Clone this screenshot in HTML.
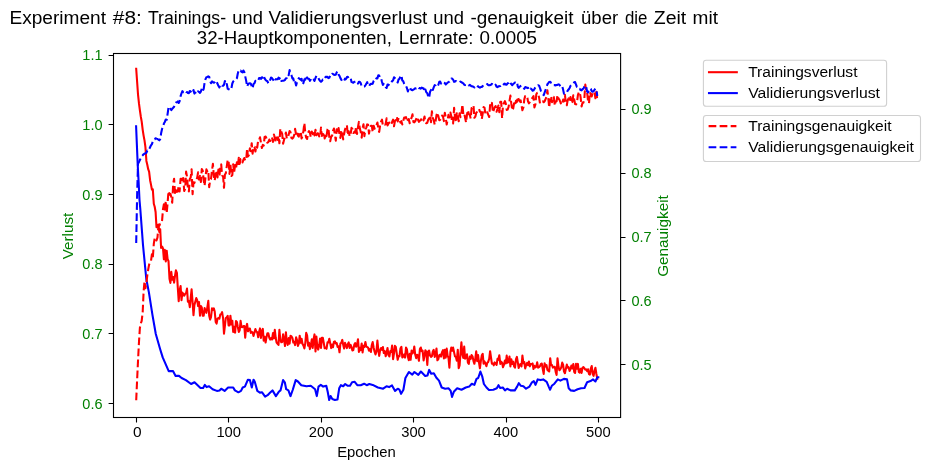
<!DOCTYPE html>
<html><head><meta charset="utf-8"><title>Experiment #8</title>
<style>html,body{margin:0;padding:0;background:#fff}body{width:930px;height:470px;overflow:hidden;font-family:"Liberation Sans",sans-serif}</style>
</head><body>
<svg width="930" height="470" viewBox="0 0 930 470" style="display:block">
<rect width="930" height="470" fill="#fff"/>
<defs><clipPath id="c"><rect x="113.5" y="53.5" width="507.1" height="364.0"/></clipPath></defs>
<g clip-path="url(#c)" fill="none" stroke-width="2.08" stroke-linejoin="round">
<path d="M136.2,68.8 L137.1,81.5 L138.0,94.3 L139.0,103.7 L139.9,110.3 L140.8,116.5 L141.7,121.6 L142.7,129.8 L143.6,135.6 L144.5,140.4 L145.4,146.9 L146.4,160.9 L147.3,164.8 L148.2,169.2 L149.1,171.7 L150.1,180.2 L151.0,184.6 L151.9,189.5 L152.8,189.2 L153.8,203.7 L154.7,206.8 L155.6,212.0 L156.5,227.3 L157.5,225.5 L158.4,224.6 L159.3,231.9 L160.2,229.2 L161.1,248.0 L162.1,246.5 L163.0,248.5 L163.9,259.3 L164.8,249.9 L165.8,261.4 L166.7,250.7 L167.6,259.2 L168.5,261.0 L169.5,278.7 L170.4,282.9 L171.3,271.9 L172.2,279.8 L173.2,277.0 L174.1,282.7 L175.0,275.8 L175.9,270.4 L176.9,272.9 L177.8,287.8 L178.7,301.2 L179.6,290.5 L180.6,286.1 L181.5,300.1 L182.4,292.6 L183.3,294.2 L184.2,295.7 L185.2,293.8 L186.1,293.1 L187.0,288.6 L187.9,301.8 L188.9,301.0 L189.8,307.2 L190.7,298.1 L191.6,289.3 L192.6,302.6 L193.5,315.2 L194.4,305.0 L195.3,301.7 L196.3,298.1 L197.2,300.1 L198.1,306.0 L199.0,302.0 L200.0,315.6 L200.9,306.0 L201.8,307.5 L202.7,315.6 L203.7,315.7 L204.6,308.0 L205.5,310.6 L206.4,312.8 L207.3,307.6 L208.3,300.9 L209.2,315.8 L210.1,319.6 L211.0,317.2 L212.0,308.3 L212.9,309.9 L213.8,308.3 L214.7,311.5 L215.7,321.9 L216.6,323.6 L217.5,318.7 L218.4,318.1 L219.4,318.7 L220.3,314.4 L221.2,314.2 L222.1,312.2 L223.1,318.3 L224.0,333.6 L224.9,326.0 L225.8,318.0 L226.8,317.3 L227.7,315.9 L228.6,325.5 L229.5,325.5 L230.4,315.7 L231.4,324.5 L232.3,320.7 L233.2,332.0 L234.1,326.8 L235.1,332.6 L236.0,321.0 L236.9,321.9 L237.8,327.0 L238.8,331.9 L239.7,330.2 L240.6,320.8 L241.5,326.9 L242.5,327.2 L243.4,326.0 L244.3,326.0 L245.2,337.7 L246.2,327.0 L247.1,323.9 L248.0,331.3 L248.9,328.8 L249.9,328.5 L250.8,332.9 L251.7,331.9 L252.6,332.4 L253.5,336.0 L254.5,332.5 L255.4,329.0 L256.3,331.7 L257.2,332.2 L258.2,337.2 L259.1,332.1 L260.0,328.4 L260.9,337.9 L261.9,330.9 L262.8,328.9 L263.7,340.6 L264.6,336.7 L265.6,342.5 L266.5,337.2 L267.4,333.3 L268.3,333.3 L269.3,337.8 L270.2,339.6 L271.1,338.0 L272.0,339.5 L273.0,333.1 L273.9,338.4 L274.8,329.9 L275.7,337.8 L276.6,342.6 L277.6,343.8 L278.5,344.9 L279.4,329.9 L280.3,339.5 L281.3,342.3 L282.2,342.0 L283.1,334.2 L284.0,339.2 L285.0,346.0 L285.9,332.2 L286.8,341.6 L287.7,344.9 L288.7,338.1 L289.6,343.6 L290.5,335.9 L291.4,336.3 L292.4,338.0 L293.3,342.5 L294.2,341.9 L295.1,345.1 L296.1,337.3 L297.0,340.1 L297.9,345.9 L298.8,343.6 L299.7,335.7 L300.7,342.8 L301.6,338.7 L302.5,343.9 L303.4,345.4 L304.4,348.4 L305.3,343.1 L306.2,332.9 L307.1,335.3 L308.1,345.6 L309.0,342.8 L309.9,349.1 L310.8,345.3 L311.8,339.4 L312.7,347.9 L313.6,339.1 L314.5,334.4 L315.5,351.5 L316.4,336.5 L317.3,347.0 L318.2,349.6 L319.2,345.1 L320.1,338.5 L321.0,348.0 L321.9,337.9 L322.8,337.8 L323.8,343.2 L324.7,348.2 L325.6,347.7 L326.5,348.8 L327.5,342.3 L328.4,342.5 L329.3,338.8 L330.2,343.1 L331.2,348.1 L332.1,344.6 L333.0,347.3 L333.9,341.9 L334.9,341.3 L335.8,343.5 L336.7,343.0 L337.6,346.9 L338.6,346.3 L339.5,352.3 L340.4,343.6 L341.3,342.8 L342.3,339.9 L343.2,344.7 L344.1,348.6 L345.0,342.9 L345.9,345.2 L346.9,348.1 L347.8,344.2 L348.7,342.4 L349.6,347.9 L350.6,344.8 L351.5,346.9 L352.4,350.5 L353.3,350.1 L354.3,344.6 L355.2,343.1 L356.1,346.8 L357.0,345.0 L358.0,339.3 L358.9,351.9 L359.8,347.9 L360.7,350.1 L361.7,343.5 L362.6,352.4 L363.5,345.9 L364.4,347.0 L365.4,342.0 L366.3,346.6 L367.2,347.0 L368.1,347.6 L369.0,350.7 L370.0,349.1 L370.9,352.0 L371.8,345.0 L372.7,342.1 L373.7,347.9 L374.6,351.7 L375.5,354.5 L376.4,351.6 L377.4,340.6 L378.3,349.8 L379.2,355.9 L380.1,350.4 L381.1,348.0 L382.0,349.8 L382.9,347.1 L383.8,353.0 L384.8,351.1 L385.7,356.3 L386.6,352.9 L387.5,348.0 L388.5,355.2 L389.4,356.5 L390.3,351.1 L391.2,351.8 L392.1,345.6 L393.1,359.1 L394.0,353.3 L394.9,345.8 L395.8,346.9 L396.8,354.0 L397.7,359.8 L398.6,356.0 L399.5,356.1 L400.5,348.2 L401.4,346.8 L402.3,357.4 L403.2,356.6 L404.2,354.4 L405.1,357.6 L406.0,347.6 L406.9,349.2 L407.9,356.8 L408.8,360.2 L409.7,353.8 L410.6,359.8 L411.6,350.5 L412.5,353.5 L413.4,352.1 L414.3,346.5 L415.2,354.6 L416.2,358.3 L417.1,354.8 L418.0,355.6 L418.9,360.8 L419.9,349.1 L420.8,347.5 L421.7,351.3 L422.6,350.6 L423.6,360.5 L424.5,356.1 L425.4,350.2 L426.3,351.7 L427.3,364.9 L428.2,351.5 L429.1,350.5 L430.0,355.5 L431.0,356.9 L431.9,356.2 L432.8,351.5 L433.7,349.8 L434.7,356.9 L435.6,354.6 L436.5,348.5 L437.4,360.3 L438.3,359.2 L439.3,355.1 L440.2,354.6 L441.1,356.6 L442.0,352.1 L443.0,350.1 L443.9,358.4 L444.8,349.8 L445.7,357.6 L446.7,348.6 L447.6,355.7 L448.5,357.9 L449.4,367.6 L450.4,352.0 L451.3,347.5 L452.2,350.8 L453.1,347.6 L454.1,352.4 L455.0,356.4 L455.9,357.0 L456.8,360.7 L457.8,349.7 L458.7,368.1 L459.6,365.5 L460.5,353.3 L461.4,342.4 L462.4,354.6 L463.3,358.0 L464.2,346.6 L465.1,358.7 L466.1,357.0 L467.0,354.3 L467.9,362.6 L468.8,363.8 L469.8,356.6 L470.7,358.9 L471.6,355.1 L472.5,356.3 L473.5,361.1 L474.4,363.8 L475.3,358.6 L476.2,351.4 L477.2,361.2 L478.1,355.1 L479.0,362.5 L479.9,368.3 L480.9,360.6 L481.8,355.3 L482.7,353.9 L483.6,363.7 L484.5,361.4 L485.5,363.9 L486.4,366.2 L487.3,362.8 L488.2,361.9 L489.2,358.8 L490.1,351.2 L491.0,357.5 L491.9,363.7 L492.9,363.5 L493.8,365.3 L494.7,362.4 L495.6,363.4 L496.6,364.9 L497.5,358.8 L498.4,359.8 L499.3,355.2 L500.3,363.9 L501.2,361.6 L502.1,362.8 L503.0,367.2 L504.0,364.6 L504.9,360.6 L505.8,363.4 L506.7,355.6 L507.6,362.8 L508.6,362.0 L509.5,356.5 L510.4,366.4 L511.3,359.2 L512.3,364.0 L513.2,361.6 L514.1,366.4 L515.0,367.6 L516.0,359.2 L516.9,356.9 L517.8,362.4 L518.7,368.0 L519.7,364.7 L520.6,364.1 L521.5,366.5 L522.4,355.5 L523.4,363.1 L524.3,362.0 L525.2,368.4 L526.1,365.2 L527.1,362.9 L528.0,365.1 L528.9,361.5 L529.8,366.3 L530.7,364.1 L531.7,364.3 L532.6,363.4 L533.5,369.0 L534.4,365.7 L535.4,367.4 L536.3,366.7 L537.2,362.3 L538.1,367.7 L539.1,367.1 L540.0,366.1 L540.9,363.9 L541.8,363.6 L542.8,369.3 L543.7,373.9 L544.6,363.2 L545.5,366.6 L546.5,365.1 L547.4,369.9 L548.3,370.7 L549.2,371.5 L550.2,358.2 L551.1,365.3 L552.0,365.0 L552.9,367.6 L553.8,367.1 L554.8,366.8 L555.7,371.9 L556.6,375.0 L557.5,358.2 L558.5,366.8 L559.4,370.2 L560.3,369.2 L561.2,367.6 L562.2,362.6 L563.1,364.6 L564.0,371.5 L564.9,373.2 L565.9,368.8 L566.8,364.6 L567.7,367.6 L568.6,367.2 L569.6,371.0 L570.5,369.1 L571.4,365.6 L572.3,368.4 L573.3,364.1 L574.2,372.0 L575.1,372.9 L576.0,363.9 L576.9,368.8 L577.9,363.9 L578.8,372.0 L579.7,372.7 L580.6,368.7 L581.6,372.9 L582.5,367.7 L583.4,367.0 L584.3,368.2 L585.3,369.6 L586.2,369.4 L587.1,371.1 L588.0,369.3 L589.0,374.1 L589.9,374.6 L590.8,368.6 L591.7,366.0 L592.7,374.0 L593.6,375.8 L594.5,371.1 L595.4,367.7 L596.4,374.0 L597.3,378.7" stroke="#f00" stroke-linecap="square"/>
<path d="M136.1,126.3 L137.7,164.4 L138.6,181.6 L139.5,200.0 L140.3,209.0 L143.0,245.0 L146.3,279.0 L148.9,292.4 L152.4,314.7 L155.8,334.0 L160.1,349.0 L162.7,357.4 L168.7,371.1 L173.0,371.1 L175.6,375.9 L179.0,375.9 L181.6,378.0 L185.9,380.1 L191.1,384.0 L194.5,382.3 L200.5,388.0 L203.1,388.0 L204.8,384.9 L206.6,387.1 L209.1,386.3 L212.6,389.2 L216.9,390.9 L219.5,390.4 L221.2,388.7 L224.6,390.9 L228.1,387.5 L233.2,387.5 L234.9,390.4 L238.4,392.3 L241.0,390.9 L242.7,387.5 L244.9,386.6 L247.9,379.7 L249.9,380.1 L251.8,387.5 L253.5,379.7 L254.7,381.5 L257.3,390.9 L259.9,392.6 L262.1,392.3 L265.1,396.6 L267.6,395.2 L270.2,392.6 L272.5,390.4 L275.9,396.1 L278.8,391.8 L280.5,390.4 L283.1,380.1 L284.8,382.3 L286.2,389.2 L288.4,390.4 L290.5,396.1 L292.7,390.0 L295.7,380.1 L297.9,381.5 L301.3,385.2 L306.5,386.3 L310.8,385.8 L315.1,389.2 L316.8,396.1 L318.5,386.6 L320.8,384.9 L323.2,386.6 L326.3,385.8 L327.7,391.8 L329.2,400.0 L330.6,396.1 L332.3,399.0 L334.9,400.0 L337.5,399.5 L339.2,388.3 L340.9,385.2 L343.2,386.3 L345.2,384.0 L347.8,385.8 L350.0,385.8 L352.1,382.3 L354.7,381.8 L357.3,385.2 L360.7,385.2 L364.1,383.7 L366.7,385.2 L369.3,384.0 L372.7,384.9 L377.9,387.5 L383.1,388.7 L386.5,386.3 L389.1,387.1 L392.0,385.4 L395.1,390.9 L397.7,388.7 L399.4,389.7 L401.1,393.8 L403.4,389.7 L405.4,378.0 L408.9,372.0 L412.3,374.6 L414.4,372.0 L418.3,374.9 L420.9,371.5 L425.2,375.9 L427.5,375.4 L429.2,369.9 L431.2,373.7 L433.8,373.2 L436.4,377.7 L439.0,380.6 L441.7,387.5 L445.2,388.7 L448.6,388.3 L450.7,390.9 L452.0,396.9 L453.8,391.8 L457.2,388.3 L461.5,389.7 L465.8,387.5 L469.2,386.6 L471.8,383.7 L474.4,384.9 L476.5,378.9 L478.2,378.0 L480.4,371.6 L482.2,376.3 L483.9,384.0 L486.5,387.5 L489.0,390.0 L493.3,389.7 L496.8,388.3 L498.5,385.2 L500.2,388.0 L502.8,387.5 L505.0,390.4 L507.1,388.7 L510.5,390.4 L514.8,390.4 L517.1,386.6 L518.8,383.2 L520.9,385.8 L523.4,386.3 L526.0,388.7 L529.5,386.6 L532.0,382.3 L533.8,381.1 L535.5,384.9 L537.7,379.4 L540.6,380.1 L543.2,379.4 L546.7,381.8 L548.7,386.6 L550.1,389.7 L551.8,385.8 L554.4,383.7 L557.8,379.4 L560.4,380.6 L563.9,378.9 L567.0,379.4 L568.7,388.3 L570.8,390.4 L574.2,390.9 L577.6,389.2 L581.1,388.3 L584.5,388.0 L587.1,382.3 L590.5,381.1 L593.1,379.4 L595.4,381.5 L597.4,377.2 L598.3,377.2" stroke="#00f" stroke-linecap="square"/>
<path d="M136.2,400.3 L137.1,380.2 L138.0,361.1 L139.0,341.7 L139.9,327.7 L140.8,323.4 L141.7,320.8 L142.7,312.0 L143.6,291.6 L144.5,281.4 L145.4,288.2 L146.4,282.6 L147.3,275.3 L148.2,269.5 L149.1,264.6 L150.1,261.8 L151.0,260.9 L151.9,254.3 L152.8,258.0 L153.8,243.8 L154.7,237.8 L155.6,238.7 L156.5,240.5 L157.5,237.4 L158.4,226.0 L159.3,225.8 L160.2,223.9 L161.1,223.6 L162.1,220.3 L163.0,209.2 L163.9,204.3 L164.8,209.5 L165.8,201.1 L166.7,213.3 L167.6,202.8 L168.5,191.2 L169.5,194.8 L170.4,193.8 L171.3,196.9 L172.2,202.6 L173.2,183.6 L174.1,178.7 L175.0,193.0 L175.9,189.4 L176.9,191.9 L177.8,191.5 L178.7,185.9 L179.6,191.4 L180.6,178.8 L181.5,182.7 L182.4,178.5 L183.3,178.1 L184.2,191.0 L185.2,188.8 L186.1,171.6 L187.0,176.5 L187.9,188.1 L188.9,191.5 L189.8,179.0 L190.7,177.4 L191.6,169.3 L192.6,194.2 L193.5,182.2 L194.4,182.8 L195.3,180.2 L196.3,180.1 L197.2,177.7 L198.1,172.2 L199.0,179.5 L200.0,175.9 L200.9,182.0 L201.8,169.0 L202.7,170.5 L203.7,180.5 L204.6,185.7 L205.5,177.1 L206.4,169.4 L207.3,171.5 L208.3,170.4 L209.2,187.1 L210.1,180.4 L211.0,178.9 L212.0,170.3 L212.9,163.8 L213.8,175.7 L214.7,180.6 L215.7,173.7 L216.6,170.5 L217.5,177.4 L218.4,169.5 L219.4,176.6 L220.3,166.1 L221.2,164.4 L222.1,175.4 L223.1,176.5 L224.0,187.8 L224.9,174.5 L225.8,173.3 L226.8,166.1 L227.7,159.7 L228.6,161.0 L229.5,173.9 L230.4,164.3 L231.4,176.0 L232.3,175.1 L233.2,164.2 L234.1,172.7 L235.1,165.1 L236.0,168.4 L236.9,162.4 L237.8,166.6 L238.8,157.7 L239.7,163.9 L240.6,159.1 L241.5,159.4 L242.5,162.4 L243.4,159.8 L244.3,158.0 L245.2,160.5 L246.2,159.6 L247.1,148.9 L248.0,156.5 L248.9,155.2 L249.9,148.2 L250.8,151.3 L251.7,143.2 L252.6,153.7 L253.5,146.7 L254.5,146.7 L255.4,151.5 L256.3,145.8 L257.2,147.7 L258.2,139.9 L259.1,140.0 L260.0,137.2 L260.9,142.4 L261.9,148.0 L262.8,144.9 L263.7,145.6 L264.6,136.9 L265.6,136.5 L266.5,138.5 L267.4,142.7 L268.3,142.1 L269.3,139.5 L270.2,141.0 L271.1,137.6 L272.0,137.5 L273.0,141.9 L273.9,134.6 L274.8,137.6 L275.7,141.9 L276.6,137.5 L277.6,139.9 L278.5,136.0 L279.4,143.3 L280.3,128.7 L281.3,131.7 L282.2,134.1 L283.1,143.7 L284.0,140.1 L285.0,136.2 L285.9,132.6 L286.8,138.4 L287.7,138.1 L288.7,134.5 L289.6,131.0 L290.5,132.1 L291.4,137.9 L292.4,138.6 L293.3,137.6 L294.2,135.2 L295.1,128.9 L296.1,134.9 L297.0,132.3 L297.9,135.5 L298.8,136.6 L299.7,131.9 L300.7,131.9 L301.6,138.5 L302.5,136.1 L303.4,131.1 L304.4,123.1 L305.3,133.3 L306.2,137.7 L307.1,139.0 L308.1,132.7 L309.0,131.1 L309.9,132.6 L310.8,137.1 L311.8,131.6 L312.7,134.2 L313.6,131.9 L314.5,135.4 L315.5,129.8 L316.4,135.2 L317.3,133.2 L318.2,133.5 L319.2,136.4 L320.1,137.4 L321.0,127.5 L321.9,136.0 L322.8,134.4 L323.8,132.2 L324.7,138.5 L325.6,133.8 L326.5,136.2 L327.5,129.4 L328.4,128.0 L329.3,136.8 L330.2,141.3 L331.2,136.6 L332.1,135.8 L333.0,130.9 L333.9,128.5 L334.9,134.7 L335.8,140.7 L336.7,129.3 L337.6,132.8 L338.6,128.1 L339.5,134.6 L340.4,137.9 L341.3,130.2 L342.3,133.3 L343.2,139.4 L344.1,134.0 L345.0,129.5 L345.9,127.4 L346.9,125.1 L347.8,135.3 L348.7,131.3 L349.6,136.3 L350.6,134.8 L351.5,127.9 L352.4,129.0 L353.3,133.0 L354.3,131.9 L355.2,132.7 L356.1,126.4 L357.0,134.0 L358.0,127.0 L358.9,121.9 L359.8,128.3 L360.7,131.8 L361.7,137.6 L362.6,128.1 L363.5,124.3 L364.4,136.1 L365.4,129.4 L366.3,127.6 L367.2,124.4 L368.1,124.8 L369.0,133.6 L370.0,128.0 L370.9,125.8 L371.8,125.7 L372.7,132.0 L373.7,125.7 L374.6,128.7 L375.5,126.5 L376.4,125.4 L377.4,122.5 L378.3,128.4 L379.2,131.9 L380.1,125.6 L381.1,121.5 L382.0,119.7 L382.9,125.7 L383.8,124.6 L384.8,124.8 L385.7,124.0 L386.6,118.3 L387.5,125.4 L388.5,123.6 L389.4,122.5 L390.3,123.1 L391.2,124.9 L392.1,122.0 L393.1,119.6 L394.0,126.3 L394.9,121.2 L395.8,119.7 L396.8,116.7 L397.7,121.4 L398.6,117.9 L399.5,119.4 L400.5,122.7 L401.4,121.2 L402.3,124.5 L403.2,120.9 L404.2,117.5 L405.1,117.6 L406.0,117.0 L406.9,121.7 L407.9,120.0 L408.8,119.0 L409.7,123.3 L410.6,120.3 L411.6,117.7 L412.5,114.3 L413.4,122.0 L414.3,122.4 L415.2,121.4 L416.2,119.0 L417.1,116.9 L418.0,119.8 L418.9,121.8 L419.9,120.5 L420.8,120.2 L421.7,118.5 L422.6,121.2 L423.6,120.2 L424.5,116.5 L425.4,122.3 L426.3,123.3 L427.3,122.8 L428.2,119.7 L429.1,118.5 L430.0,115.5 L431.0,122.1 L431.9,111.4 L432.8,118.1 L433.7,120.0 L434.7,124.6 L435.6,121.1 L436.5,115.1 L437.4,112.6 L438.3,115.9 L439.3,120.2 L440.2,119.8 L441.1,118.4 L442.0,115.5 L443.0,116.6 L443.9,121.1 L444.8,112.8 L445.7,117.3 L446.7,124.5 L447.6,119.8 L448.5,114.8 L449.4,117.4 L450.4,112.5 L451.3,116.3 L452.2,122.9 L453.1,123.4 L454.1,107.9 L455.0,116.6 L455.9,122.3 L456.8,112.2 L457.8,116.1 L458.7,121.3 L459.6,113.2 L460.5,117.2 L461.4,113.5 L462.4,104.5 L463.3,114.0 L464.2,112.8 L465.1,117.9 L466.1,122.6 L467.0,114.5 L467.9,110.1 L468.8,114.0 L469.8,115.1 L470.7,118.5 L471.6,108.0 L472.5,107.9 L473.5,105.7 L474.4,117.8 L475.3,116.7 L476.2,112.9 L477.2,111.6 L478.1,110.3 L479.0,108.9 L479.9,111.8 L480.9,111.9 L481.8,119.0 L482.7,113.6 L483.6,107.1 L484.5,107.6 L485.5,114.4 L486.4,112.7 L487.3,112.3 L488.2,114.7 L489.2,117.0 L490.1,105.1 L491.0,106.0 L491.9,102.9 L492.9,112.4 L493.8,109.8 L494.7,107.3 L495.6,106.0 L496.6,111.7 L497.5,108.8 L498.4,105.6 L499.3,112.2 L500.3,101.8 L501.2,101.9 L502.1,118.3 L503.0,105.2 L504.0,102.9 L504.9,101.1 L505.8,103.6 L506.7,109.9 L507.6,109.6 L508.6,106.9 L509.5,101.1 L510.4,95.6 L511.3,103.7 L512.3,110.4 L513.2,108.5 L514.1,103.2 L515.0,105.9 L516.0,100.8 L516.9,101.9 L517.8,96.9 L518.7,99.5 L519.7,101.4 L520.6,100.3 L521.5,105.2 L522.4,110.2 L523.4,107.5 L524.3,99.3 L525.2,96.1 L526.1,96.3 L527.1,96.1 L528.0,101.4 L528.9,103.3 L529.8,102.1 L530.7,100.5 L531.7,98.9 L532.6,97.5 L533.5,96.2 L534.4,107.5 L535.4,104.5 L536.3,94.2 L537.2,92.8 L538.1,93.6 L539.1,97.5 L540.0,103.4 L540.9,102.0 L541.8,101.3 L542.8,101.3 L543.7,102.2 L544.6,101.2 L545.5,99.2 L546.5,96.6 L547.4,90.4 L548.3,98.4 L549.2,107.6 L550.2,97.9 L551.1,96.2 L552.0,102.2 L552.9,97.8 L553.8,96.9 L554.8,105.5 L555.7,101.6 L556.6,101.3 L557.5,95.1 L558.5,98.7 L559.4,99.6 L560.3,101.8 L561.2,104.8 L562.2,103.9 L563.1,99.6 L564.0,101.4 L564.9,94.7 L565.9,103.3 L566.8,105.2 L567.7,100.1 L568.6,98.4 L569.6,101.2 L570.5,97.0 L571.4,103.3 L572.3,102.0 L573.3,95.2 L574.2,99.4 L575.1,104.0 L576.0,104.4 L576.9,103.0 L577.9,95.2 L578.8,92.5 L579.7,92.0 L580.6,97.1 L581.6,106.5 L582.5,102.7 L583.4,102.7 L584.3,99.0 L585.3,84.6 L586.2,91.2 L587.1,92.1 L588.0,100.7 L589.0,103.4 L589.9,92.2 L590.8,94.7 L591.7,96.4 L592.7,92.6 L593.6,91.7 L594.5,92.2 L595.4,98.3 L596.4,91.9 L597.3,100.3" stroke="#f00" stroke-dasharray="7.71 3.33"/>
<path d="M136.2,243.0 L137.1,196.5 L138.0,163.7 L139.0,161.9 L139.9,160.0 L140.8,158.1 L141.7,156.3 L142.7,155.3 L143.6,154.3 L144.5,153.7 L145.4,153.3 L146.4,152.8 L147.3,150.5 L148.2,150.8 L149.1,149.5 L150.1,147.2 L151.0,145.3 L151.9,144.1 L152.8,141.4 L153.8,139.5 L154.7,139.3 L155.6,138.2 L156.5,138.6 L157.5,139.0 L158.4,139.6 L159.3,140.3 L160.2,139.1 L161.1,133.3 L162.1,128.8 L163.0,127.3 L163.9,123.5 L164.8,122.0 L165.8,119.5 L166.7,119.8 L167.6,113.9 L168.5,107.7 L169.5,106.6 L170.4,108.4 L171.3,110.1 L172.2,108.9 L173.2,107.8 L174.1,106.8 L175.0,103.8 L175.9,102.6 L176.9,102.3 L177.8,101.4 L178.7,103.0 L179.6,101.2 L180.6,96.1 L181.5,93.3 L182.4,91.1 L183.3,92.2 L184.2,91.5 L185.2,90.8 L186.1,91.9 L187.0,92.1 L187.9,93.0 L188.9,93.1 L189.8,91.0 L190.7,91.5 L191.6,92.7 L192.6,93.2 L193.5,90.0 L194.4,93.6 L195.3,92.6 L196.3,94.1 L197.2,92.3 L198.1,91.3 L199.0,92.0 L200.0,92.9 L200.9,91.4 L201.8,88.7 L202.7,91.2 L203.7,88.9 L204.6,82.6 L205.5,79.1 L206.4,77.2 L207.3,76.9 L208.3,76.3 L209.2,76.8 L210.1,80.9 L211.0,83.2 L212.0,81.4 L212.9,82.1 L213.8,82.8 L214.7,82.2 L215.7,80.6 L216.6,81.7 L217.5,83.7 L218.4,85.8 L219.4,87.5 L220.3,84.8 L221.2,84.4 L222.1,85.7 L223.1,85.8 L224.0,84.8 L224.9,81.0 L225.8,84.9 L226.8,84.0 L227.7,88.7 L228.6,89.3 L229.5,89.6 L230.4,90.1 L231.4,88.4 L232.3,83.5 L233.2,81.5 L234.1,80.6 L235.1,79.7 L236.0,79.3 L236.9,78.2 L237.8,73.5 L238.8,70.1 L239.7,70.8 L240.6,70.5 L241.5,71.8 L242.5,72.3 L243.4,70.5 L244.3,72.1 L245.2,76.3 L246.2,80.9 L247.1,86.5 L248.0,84.3 L248.9,83.4 L249.9,83.2 L250.8,83.6 L251.7,86.3 L252.6,88.3 L253.5,84.1 L254.5,83.2 L255.4,80.8 L256.3,81.4 L257.2,81.2 L258.2,80.6 L259.1,78.1 L260.0,77.9 L260.9,78.9 L261.9,77.3 L262.8,77.7 L263.7,75.5 L264.6,78.4 L265.6,79.9 L266.5,80.8 L267.4,81.2 L268.3,83.4 L269.3,82.2 L270.2,79.8 L271.1,77.5 L272.0,78.1 L273.0,79.5 L273.9,81.2 L274.8,78.6 L275.7,79.4 L276.6,79.2 L277.6,79.2 L278.5,77.7 L279.4,78.8 L280.3,77.3 L281.3,80.9 L282.2,80.7 L283.1,80.7 L284.0,80.5 L285.0,79.9 L285.9,78.4 L286.8,77.9 L287.7,74.5 L288.7,75.1 L289.6,70.1 L290.5,72.8 L291.4,74.9 L292.4,78.6 L293.3,78.4 L294.2,82.7 L295.1,81.2 L296.1,85.5 L297.0,82.1 L297.9,79.6 L298.8,78.2 L299.7,78.9 L300.7,79.8 L301.6,78.8 L302.5,84.3 L303.4,83.1 L304.4,79.4 L305.3,79.7 L306.2,75.6 L307.1,77.8 L308.1,78.8 L309.0,78.8 L309.9,80.9 L310.8,79.9 L311.8,81.4 L312.7,80.0 L313.6,79.6 L314.5,80.9 L315.5,78.0 L316.4,75.7 L317.3,76.9 L318.2,77.5 L319.2,79.7 L320.1,81.0 L321.0,81.8 L321.9,81.0 L322.8,79.5 L323.8,79.8 L324.7,79.5 L325.6,76.9 L326.5,76.9 L327.5,76.8 L328.4,78.1 L329.3,77.8 L330.2,75.6 L331.2,75.8 L332.1,73.8 L333.0,74.0 L333.9,74.8 L334.9,74.9 L335.8,74.6 L336.7,72.3 L337.6,71.2 L338.6,74.6 L339.5,75.9 L340.4,78.1 L341.3,79.6 L342.3,81.6 L343.2,81.6 L344.1,80.8 L345.0,78.6 L345.9,79.1 L346.9,77.1 L347.8,76.8 L348.7,78.4 L349.6,78.0 L350.6,77.9 L351.5,81.9 L352.4,82.4 L353.3,82.8 L354.3,81.8 L355.2,81.8 L356.1,81.5 L357.0,81.4 L358.0,83.6 L358.9,81.8 L359.8,81.8 L360.7,83.1 L361.7,86.5 L362.6,86.7 L363.5,86.6 L364.4,86.5 L365.4,85.3 L366.3,83.9 L367.2,82.1 L368.1,85.9 L369.0,86.2 L370.0,84.6 L370.9,83.8 L371.8,83.9 L372.7,83.7 L373.7,80.8 L374.6,79.9 L375.5,77.9 L376.4,78.5 L377.4,78.4 L378.3,75.3 L379.2,75.5 L380.1,78.3 L381.1,78.3 L382.0,82.0 L382.9,85.0 L383.8,83.8 L384.8,85.9 L385.7,87.3 L386.6,88.0 L387.5,84.5 L388.5,85.1 L389.4,83.1 L390.3,83.2 L391.2,82.7 L392.1,81.1 L393.1,80.4 L394.0,77.3 L394.9,78.1 L395.8,79.2 L396.8,80.7 L397.7,82.5 L398.6,79.4 L399.5,78.8 L400.5,75.9 L401.4,75.5 L402.3,80.5 L403.2,81.1 L404.2,83.9 L405.1,85.7 L406.0,86.0 L406.9,88.0 L407.9,91.5 L408.8,88.7 L409.7,87.3 L410.6,89.0 L411.6,90.0 L412.5,90.2 L413.4,89.6 L414.3,89.1 L415.2,88.2 L416.2,88.4 L417.1,87.1 L418.0,87.1 L418.9,88.1 L419.9,88.1 L420.8,88.7 L421.7,87.6 L422.6,88.2 L423.6,88.2 L424.5,91.4 L425.4,89.5 L426.3,92.3 L427.3,93.2 L428.2,96.4 L429.1,97.9 L430.0,92.0 L431.0,89.9 L431.9,87.6 L432.8,90.0 L433.7,87.4 L434.7,85.1 L435.6,85.6 L436.5,87.0 L437.4,86.4 L438.3,85.0 L439.3,81.8 L440.2,81.6 L441.1,83.6 L442.0,82.0 L443.0,82.7 L443.9,82.6 L444.8,83.0 L445.7,84.5 L446.7,83.5 L447.6,82.7 L448.5,82.2 L449.4,81.7 L450.4,80.7 L451.3,78.6 L452.2,78.6 L453.1,79.6 L454.1,81.9 L455.0,81.5 L455.9,81.0 L456.8,81.6 L457.8,81.8 L458.7,82.3 L459.6,82.4 L460.5,81.6 L461.4,82.1 L462.4,82.9 L463.3,83.3 L464.2,84.6 L465.1,85.1 L466.1,84.9 L467.0,84.1 L467.9,84.3 L468.8,85.5 L469.8,84.8 L470.7,85.7 L471.6,86.3 L472.5,86.4 L473.5,86.8 L474.4,87.5 L475.3,85.9 L476.2,85.5 L477.2,86.3 L478.1,86.4 L479.0,87.2 L479.9,87.7 L480.9,87.0 L481.8,86.9 L482.7,86.1 L483.6,85.1 L484.5,85.2 L485.5,85.1 L486.4,84.8 L487.3,84.0 L488.2,85.2 L489.2,85.2 L490.1,85.1 L491.0,84.7 L491.9,83.9 L492.9,84.4 L493.8,84.3 L494.7,85.7 L495.6,84.7 L496.6,86.8 L497.5,87.1 L498.4,86.4 L499.3,86.3 L500.3,86.1 L501.2,85.4 L502.1,84.6 L503.0,83.4 L504.0,84.4 L504.9,83.6 L505.8,84.7 L506.7,84.6 L507.6,83.4 L508.6,82.8 L509.5,81.3 L510.4,83.0 L511.3,84.1 L512.3,85.2 L513.2,83.9 L514.1,83.4 L515.0,82.4 L516.0,82.2 L516.9,81.8 L517.8,86.6 L518.7,87.8 L519.7,86.8 L520.6,86.0 L521.5,85.5 L522.4,86.2 L523.4,87.0 L524.3,88.9 L525.2,87.1 L526.1,87.3 L527.1,87.9 L528.0,87.7 L528.9,89.7 L529.8,90.0 L530.7,88.6 L531.7,89.4 L532.6,90.8 L533.5,90.4 L534.4,89.0 L535.4,87.2 L536.3,86.1 L537.2,86.0 L538.1,85.2 L539.1,85.6 L540.0,88.0 L540.9,90.9 L541.8,92.8 L542.8,94.1 L543.7,95.2 L544.6,92.6 L545.5,90.0 L546.5,87.1 L547.4,84.2 L548.3,83.2 L549.2,81.9 L550.2,81.7 L551.1,82.8 L552.0,83.4 L552.9,85.1 L553.8,85.1 L554.8,85.1 L555.7,85.4 L556.6,85.0 L557.5,84.9 L558.5,84.4 L559.4,84.8 L560.3,86.4 L561.2,85.6 L562.2,86.0 L563.1,89.6 L564.0,93.7 L564.9,93.7 L565.9,93.6 L566.8,92.7 L567.7,90.5 L568.6,89.6 L569.6,88.0 L570.5,85.9 L571.4,84.9 L572.3,84.3 L573.3,83.8 L574.2,82.3 L575.1,82.0 L576.0,84.5 L576.9,86.8 L577.9,87.4 L578.8,89.1 L579.7,88.9 L580.6,90.0 L581.6,90.4 L582.5,89.1 L583.4,88.8 L584.3,86.6 L585.3,85.5 L586.2,86.6 L587.1,91.5 L588.0,92.5 L589.0,89.9 L589.9,88.5 L590.8,89.0 L591.7,91.2 L592.7,91.7 L593.6,91.1 L594.5,89.8 L595.4,88.6 L596.4,89.7 L597.3,96.0" stroke="#00f" stroke-dasharray="7.71 3.33"/>
</g>
<rect x="113.5" y="53.5" width="507.1" height="364.0" fill="none" stroke="#000" stroke-width="1.1"/>
<path d="M136.5,417.5v4.9 M228.5,417.5v4.9 M321.5,417.5v4.9 M413.5,417.5v4.9 M506.5,417.5v4.9 M598.5,417.5v4.9 M113.5,403.5h-4.9 M113.5,333.5h-4.9 M113.5,264.5h-4.9 M113.5,194.5h-4.9 M113.5,124.5h-4.9 M113.5,55.5h-4.9 M620.6,364.5h4.9 M620.6,300.5h4.9 M620.6,237.5h4.9 M620.6,173.5h4.9 M620.6,109.5h4.9" stroke="#000" stroke-width="1.1" fill="none"/>
<rect x="703.4" y="60.3" width="183.2" height="46" rx="2.8" fill="#fff" fill-opacity="0.8" stroke="#d0d0d0" stroke-width="1.1"/>
<rect x="703.4" y="115.5" width="217.1" height="46" rx="2.8" fill="#fff" fill-opacity="0.8" stroke="#d0d0d0" stroke-width="1.1"/>
<g font-family="Liberation Sans, sans-serif" font-size="14.7" opacity="0.999">
<text x="137.2" y="437.2" text-anchor="middle" textLength="8.6" lengthAdjust="spacingAndGlyphs">0</text>
<text x="228.7" y="437.2" text-anchor="middle" textLength="24.6" lengthAdjust="spacingAndGlyphs">100</text>
<text x="321.1" y="437.2" text-anchor="middle" textLength="24.6" lengthAdjust="spacingAndGlyphs">200</text>
<text x="413.5" y="437.2" text-anchor="middle" textLength="24.6" lengthAdjust="spacingAndGlyphs">300</text>
<text x="505.9" y="437.2" text-anchor="middle" textLength="24.6" lengthAdjust="spacingAndGlyphs">400</text>
<text x="598.3" y="437.2" text-anchor="middle" textLength="24.6" lengthAdjust="spacingAndGlyphs">500</text>
<text x="102.5" y="409.1" text-anchor="end" fill="#008000" textLength="20.2" lengthAdjust="spacingAndGlyphs">0.6</text>
<text x="102.5" y="339.1" text-anchor="end" fill="#008000" textLength="20.2" lengthAdjust="spacingAndGlyphs">0.7</text>
<text x="102.5" y="269.1" text-anchor="end" fill="#008000" textLength="20.2" lengthAdjust="spacingAndGlyphs">0.8</text>
<text x="102.5" y="200.1" text-anchor="end" fill="#008000" textLength="20.2" lengthAdjust="spacingAndGlyphs">0.9</text>
<text x="102.5" y="130.1" text-anchor="end" fill="#008000" textLength="20.2" lengthAdjust="spacingAndGlyphs">1.0</text>
<text x="102.5" y="60.1" text-anchor="end" fill="#008000" textLength="20.2" lengthAdjust="spacingAndGlyphs">1.1</text>
<text x="631.5" y="370.1" fill="#008000" textLength="20.2" lengthAdjust="spacingAndGlyphs">0.5</text>
<text x="631.5" y="306.1" fill="#008000" textLength="20.2" lengthAdjust="spacingAndGlyphs">0.6</text>
<text x="631.5" y="242.1" fill="#008000" textLength="20.2" lengthAdjust="spacingAndGlyphs">0.7</text>
<text x="631.5" y="178.1" fill="#008000" textLength="20.2" lengthAdjust="spacingAndGlyphs">0.8</text>
<text x="631.5" y="114.1" fill="#008000" textLength="20.2" lengthAdjust="spacingAndGlyphs">0.9</text>
<text x="366.5" y="457.2" text-anchor="middle" textLength="58.6" lengthAdjust="spacingAndGlyphs">Epochen</text>
<text transform="translate(72.8,236) rotate(-90)" text-anchor="middle" fill="#008000" textLength="46.5" lengthAdjust="spacingAndGlyphs">Verlust</text>
<text transform="translate(668.2,236) rotate(-90)" text-anchor="middle" fill="#008000" textLength="81.7" lengthAdjust="spacingAndGlyphs">Genauigkeit</text>
<text x="748.2" y="76.8" textLength="109.3" lengthAdjust="spacingAndGlyphs">Trainingsverlust</text>
<text x="748.2" y="98.0" textLength="131.8" lengthAdjust="spacingAndGlyphs">Validierungsverlust</text>
<text x="748.2" y="130.8" textLength="143.4" lengthAdjust="spacingAndGlyphs">Trainingsgenauigkeit</text>
<text x="748.2" y="151.9" textLength="165.7" lengthAdjust="spacingAndGlyphs">Validierungsgenauigkeit</text>
</g>
<g font-family="Liberation Sans, sans-serif" font-size="17.6" text-anchor="middle" opacity="0.999">
<text x="57.7" y="24.1" textLength="96.6" lengthAdjust="spacingAndGlyphs">Experiment</text>
<text x="127.3" y="24.1" textLength="29.0" lengthAdjust="spacingAndGlyphs">#8:</text>
<text x="187.0" y="24.1" textLength="78.2" lengthAdjust="spacingAndGlyphs">Trainings-</text>
<text x="247.6" y="24.1" textLength="30.6" lengthAdjust="spacingAndGlyphs">und</text>
<text x="348.0" y="24.1" textLength="158.8" lengthAdjust="spacingAndGlyphs">Validierungsverlust</text>
<text x="448.6" y="24.1" textLength="30.7" lengthAdjust="spacingAndGlyphs">und</text>
<text x="521.9" y="24.1" textLength="103.0" lengthAdjust="spacingAndGlyphs">-genauigkeit</text>
<text x="599.6" y="24.1" textLength="37.1" lengthAdjust="spacingAndGlyphs">über</text>
<text x="636.2" y="24.1" textLength="22.5" lengthAdjust="spacingAndGlyphs">die</text>
<text x="670.0" y="24.1" textLength="32.5" lengthAdjust="spacingAndGlyphs">Zeit</text>
<text x="705.3" y="24.1" textLength="25.4" lengthAdjust="spacingAndGlyphs">mit</text>
<text x="294.4" y="44.3" textLength="195.1" lengthAdjust="spacingAndGlyphs">32-Hauptkomponenten,</text>
<text x="436.2" y="44.3" textLength="74.7" lengthAdjust="spacingAndGlyphs">Lernrate:</text>
<text x="508.3" y="44.3" textLength="57.5" lengthAdjust="spacingAndGlyphs">0.0005</text>
</g>
<g stroke-width="2.08" fill="none">
<path d="M709,72.2H736.8" stroke="#f00" stroke-linecap="square"/>
<path d="M709,93.1H736.8" stroke="#00f" stroke-linecap="square"/>
<path d="M708.6,126.1H736.4" stroke="#f00" stroke-dasharray="7.71 3.33"/>
<path d="M708.6,147.3H736.4" stroke="#00f" stroke-dasharray="7.71 3.33"/>
</g>
</svg>
</body></html>
